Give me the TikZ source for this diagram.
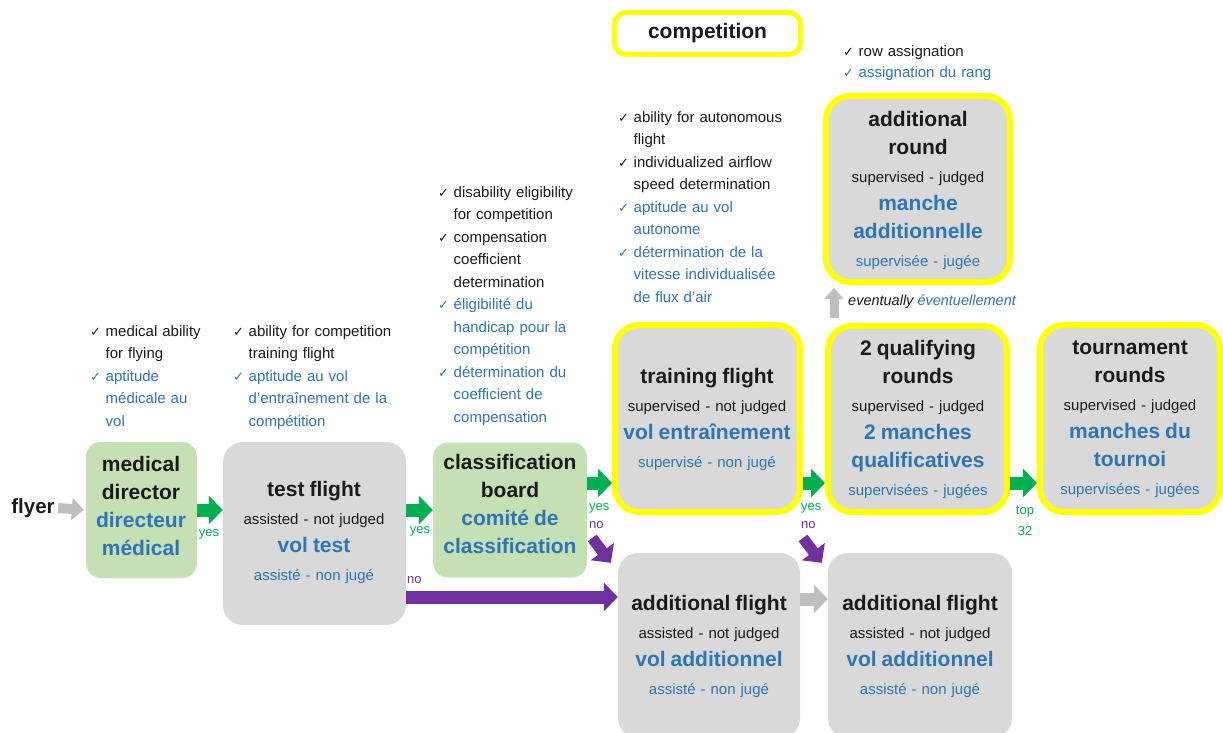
\documentclass[tikz,border=0pt]{standalone}
\usepackage{fontspec}
\setmainfont{Liberation Sans}
\newfontfamily\chkfont{DejaVu Sans}
\usetikzlibrary{arrows.meta}
\definecolor{frblue}{HTML}{2E75B6}
\definecolor{txtblack}{HTML}{1A1A1A}
\definecolor{boxgray}{HTML}{D9D9D9}
\definecolor{boxgreen}{HTML}{C5E0B4}
\definecolor{yesgreen}{HTML}{00B050}
\definecolor{nopurple}{HTML}{7030A0}
\definecolor{arrgray}{HTML}{BFBFBF}
\definecolor{hlyellow}{HTML}{FFFF00}
\newcommand\ck{\makebox[15.5pt][l]{\chkfont\fontsize{13}{13}\selectfont ✓}}
\newcommand\ind{\hspace*{15.5pt}}
\newcommand\frtxt{\color{frblue}}
\newcommand\bxttl[1]{{\fontsize{21}{28}\selectfont\bfseries #1}}
\newcommand\bxsub[1]{{\fontsize{15}{28}\selectfont #1}}
\begin{document}
\begin{tikzpicture}[x=1pt,y=-1pt,
  gbox/.style={fill=boxgreen,inner sep=0pt,rounded corners=15pt},
  graybox/.style={fill=boxgray,inner sep=0pt,rounded corners=20pt},
  ybox/.style={fill=boxgray,draw=hlyellow,line width=6pt,inner sep=0pt,rounded corners=24pt},
  boxtext/.style={align=center,text width=190pt,inner sep=0pt,font=\fontsize{15}{28}\selectfont,text=txtblack},
  chklist/.style={anchor=north west,align=left,text width=200pt,inner sep=0pt,font=\fontsize{15}{22.5}\selectfont,text=txtblack},
  fat/.style={line width=13pt,-{Triangle[length=14pt,width=28pt]}},
  yesarrow/.style={fat,draw=yesgreen},
  noarrow/.style={fat,draw=nopurple},
  grayarrow/.style={fat,draw=arrgray},
  lbl/.style={inner sep=0pt,font=\fontsize{13}{13}\selectfont},
]
\useasboundingbox (0,0) rectangle (1223,733);
\fill[white] (0,0) rectangle (1223,733);
\clip (0,0) rectangle (1223,733);

\node[gbox,minimum width=111pt,minimum height=136pt] (med) at (141.5,510) {};
\node[graybox,minimum width=183pt,minimum height=183pt] (test) at (314.5,533.5) {};
\node[gbox,minimum width=154pt,minimum height=135pt] (cls) at (510,510) {};
\node[ybox,minimum width=185pt,minimum height=187pt] (tr) at (707.5,418.5) {};
\node[ybox,minimum width=179pt,minimum height=186pt] (qual) at (917.5,419) {};
\node[ybox,minimum width=180pt,minimum height=187pt] (tour) at (1130,418.5) {};
\node[ybox,minimum width=184pt,minimum height=186pt] (ar) at (918,189) {};
\node[ybox,fill=white,line width=5pt,rounded corners=12pt,minimum width=186pt,minimum height=42pt,text=txtblack] (comp) at (707.5,33.5) {\bxttl{competition}};
\node[graybox,minimum width=182pt,minimum height=185pt] (af1) at (709,645.5) {};
\node[graybox,minimum width=184pt,minimum height=185pt] (af2) at (920,645.5) {};

\node[boxtext] (medtxt) at (141,506) {\bxttl{medical\\director}\\\frtxt\bxttl{directeur\\médical}};
\node[boxtext] (testtxt) at (314,532) {\bxttl{test flight}\\\bxsub{assisted - not judged}\\\frtxt\bxttl{vol test}\\\bxsub{assisté - non jugé}};
\node[boxtext] (clstxt) at (510,504) {\bxttl{classification\\board}\\\frtxt\bxttl{comité de\\classification}};
\node[boxtext] (trtxt) at (707,419) {\bxttl{training flight}\\\bxsub{supervised - not judged}\\\frtxt\bxttl{vol entraînement}\\\bxsub{supervisé - non jugé}};
\node[boxtext] (qualtxt) at (918,419) {\bxttl{2 qualifying\\rounds}\\\bxsub{supervised - judged}\\\frtxt\bxttl{2 manches\\qualificatives}\\\bxsub{supervisées - jugées}};
\node[boxtext] (tourtxt) at (1130,419) {\bxttl{tournament\\rounds}\\\bxsub{supervised - judged}\\\frtxt\bxttl{manches du\\tournoi}\\\bxsub{supervisées - jugées}};
\node[boxtext] (artxt) at (918,190) {\bxttl{additional\\round}\\\bxsub{supervised - judged}\\\frtxt\bxttl{manche\\additionnelle}\\\bxsub{supervisée - jugée}};
\node[boxtext] (af1txt) at (709,646) {\bxttl{additional flight}\\\bxsub{assisted - not judged}\\\frtxt\bxttl{vol additionnel}\\\bxsub{assisté - non jugé}};
\node[boxtext] (af2txt) at (920,646) {\bxttl{additional flight}\\\bxsub{assisted - not judged}\\\frtxt\bxttl{vol additionnel}\\\bxsub{assisté - non jugé}};

\node[chklist] (medlist) at (90,325) {\ck medical ability\\\ind for flying\\\frtxt\ck aptitude\\\ind médicale au\\\ind vol};
\node[chklist] (testlist) at (233,325) {\ck ability for competition\\\ind training flight\\\frtxt\ck aptitude au vol\\\ind d'entraînement de la\\\ind compétition};
\node[chklist] (clslist) at (438,186) {\ck disability eligibility\\\ind for competition\\\ck compensation\\\ind coefficient\\\ind determination\\\frtxt\ck éligibilité du\\\ind handicap pour la\\\ind compétition\\\ck détermination du\\\ind coefficient de\\\ind compensation};
\node[chklist] (trlist) at (618,111) {\ck ability for autonomous\\\ind flight\\\ck individualized airflow\\\ind speed determination\\\frtxt\ck aptitude au vol\\\ind autonome\\\ck détermination de la\\\ind vitesse individualisée\\\ind de flux d'air};
\node[chklist,font=\fontsize{15}{21}\selectfont] (rowlist) at (843,45) {\ck row assignation\\\frtxt\ck assignation du rang};

\node[text=txtblack,font=\fontsize{20.5}{20.5}\selectfont\bfseries] (flyer) at (33,508) {flyer};
\node[anchor=west,inner sep=0pt,text=txtblack,font=\fontsize{14.5}{14.5}\selectfont\itshape] (evt) at (848,302) {eventually \textcolor{frblue}{éventuellement}};

\node[lbl,text=yesgreen] (yes1) at (209,534) {yes};
\node[lbl,text=yesgreen] (yes2) at (420,531) {yes};
\node[lbl,text=yesgreen,anchor=west] (yes3) at (589,508) {yes};
\node[lbl,text=nopurple,anchor=west] (no3) at (589,525) {no};
\node[lbl,text=yesgreen,anchor=west] (yes4) at (801,508) {yes};
\node[lbl,text=nopurple,anchor=west] (no4) at (801,525) {no};
\node[lbl,text=nopurple,anchor=west] (no2) at (407,580) {no};
\node[lbl,text=yesgreen,align=center,font=\fontsize{13}{21}\selectfont] (top) at (1025,521) {top\\32};

\coordinate (ya) at (0,483);
\coordinate (yb) at (0,599);
\coordinate (yc) at (0,597);
\draw[grayarrow,line width=10pt,-{Triangle[length=12pt,width=22pt]},shorten >=2pt] (flyer.east) -- (med.west);
\draw[yesarrow] (med.east) -- (test.west |- med.east);
\draw[yesarrow] (test.east |- cls.west) -- (cls.west);
\draw[yesarrow] (cls.east |- ya) -- (tr.west |- ya);
\draw[yesarrow] (tr.east |- ya) -- (qual.west |- ya);
\draw[yesarrow] (qual.east |- ya) -- (tour.west |- ya);
\draw[noarrow] (test.east |- yc) -- (af1.west |- yc);
\draw[noarrow,line width=11pt] ([xshift=5pt,yshift=-28pt]cls.east) -- ([xshift=-7pt,yshift=-10pt]af1.north west);
\draw[noarrow,line width=11pt] ([yshift=-23pt]tr.south east) -- ([xshift=-6pt,yshift=-10pt]af2.north west);
\draw[grayarrow] (af1.east |- yb) -- (af2.west |- yb);
\draw[grayarrow,line width=9pt,-{Triangle[length=11pt,width=19pt]},shorten <=5pt,shorten >=3pt] ([xshift=-83.5pt]qual.north) -- ([xshift=-84pt]ar.south);
\end{tikzpicture}
\end{document}
